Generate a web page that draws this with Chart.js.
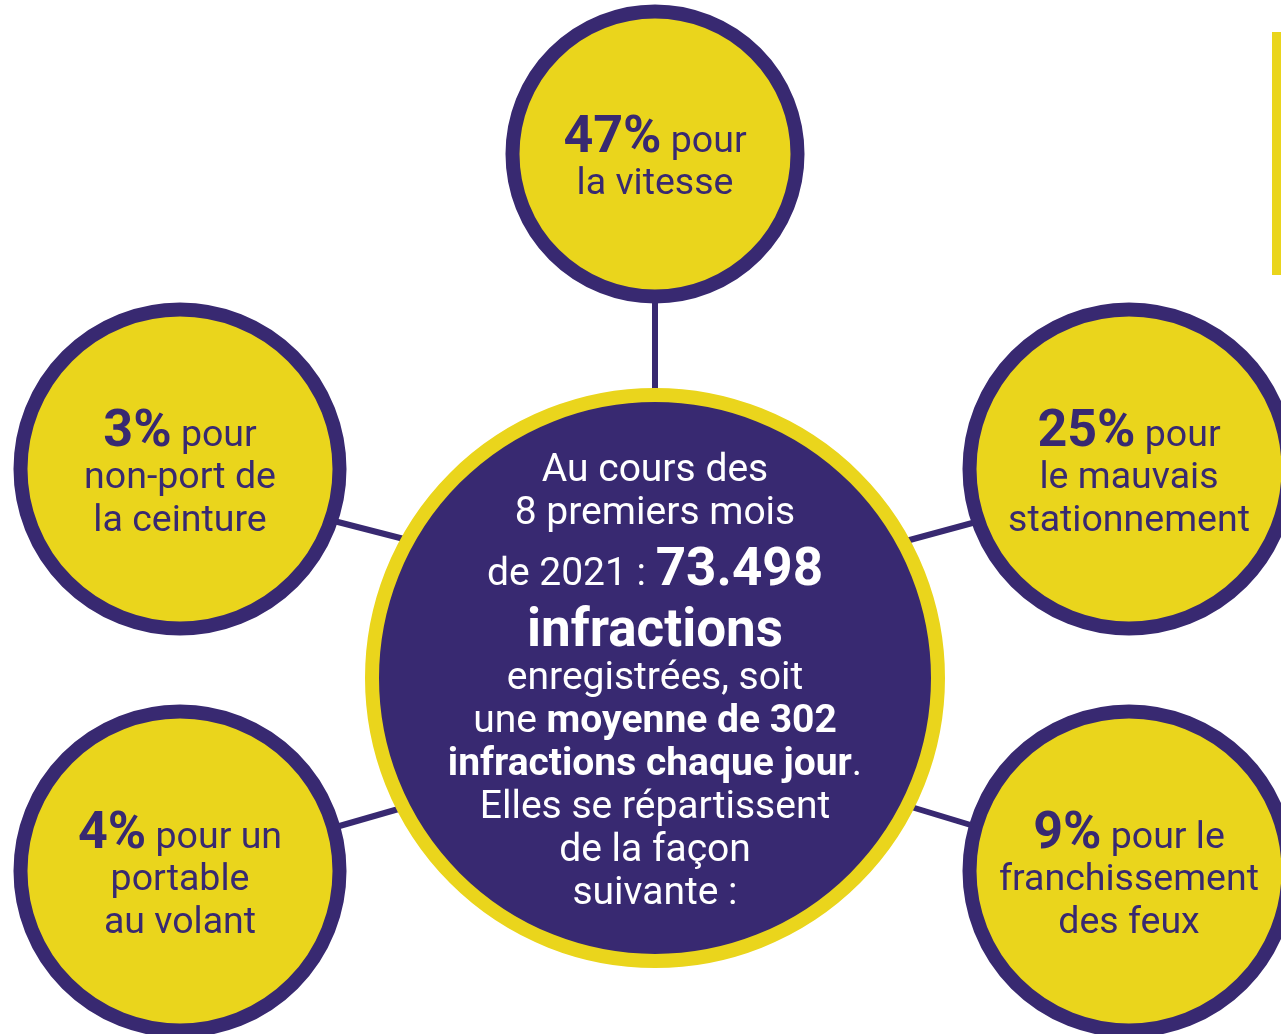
<!DOCTYPE html>
<html lang="fr">
<head>
<meta charset="utf-8">
<title>Infractions 2021</title>
<script src="https://cdn.jsdelivr.net/npm/chart.js@4.4.1/dist/chart.umd.min.js"></script>
<style>
  html, body { margin: 0; padding: 0; background: #ffffff; }
  #wrap { position: relative; width: 1281px; height: 1034px; }
</style>
</head>
<body>
<div id="wrap"><canvas id="infractionsChart"></canvas></div>
<script>
// --- data ---
const shares = [47, 25, 9, 4, 3];
const categoryLines = [
    ['pour', 'la vitesse'],
    ['pour', 'le mauvais', 'stationnement'],
    ['pour le', 'franchissement', 'des feux'],
    ['pour un', 'portable', 'au volant'],
    ['pour', 'non-port de', 'la ceinture']
];
const totalInfractions = '73.498';
const dailyAverage = 302;
const periodMonths = 8;
const periodYear = 2021;

// hub text, each line is a list of [text, style]  (r = regular, b = bold, big = large bold)
const hubLines = [
    [['Au cours des', 'r']],
    [[periodMonths + ' premiers mois', 'r']],
    [['de ' + periodYear + ' : ', 'r'], [totalInfractions, 'big']],
    [['infractions', 'big']],
    [['enregistrées, soit', 'r']],
    [['une ', 'r'], ['moyenne de ' + dailyAverage, 'b']],
    [['infractions chaque jour', 'b'], ['.', 'r']],
    [['Elles se répartissent', 'r']],
    [['de la façon', 'r']],
    [['suivante :', 'r']]
];

// --- layout (canvas pixels == axis units) ---
const W = 1281, H = 1034;
const bubbleX = [655, 1129, 1129, 180, 180];
const bubbleY = [154, 469, 871, 871, 469];
const bubbleOuter = [149, 166, 166, 166, 166];
const ring = 13;
const hub = { x: 655, y: 678, r: 290 };
const connectors = [
    [655, 298, 655, 394],
    [906, 541, 976, 522],
    [908, 806, 974, 826],
    [336, 827, 402, 808],
    [334, 521, 404, 539]
];

const PURPLE = '#382971';
const YELLOW = '#EAD51C';
const FONT = 'Roboto, "Noto Sans", sans-serif';

// big bubbles would otherwise shrink the chart area (overflow padding),
// here the axes must span the whole canvas
Chart.BubbleController.prototype.getMaxOverflow = function () { return 0; };
Chart.LineController.prototype.getMaxOverflow = function () { return 0; };

function fontFor(style, sizes) {
    if (style === 'big') return 'bold ' + sizes.big + 'px ' + FONT;
    if (style === 'b') return 'bold ' + sizes.text + 'px ' + FONT;
    return 'normal ' + sizes.text + 'px ' + FONT;
}

function drawRuns(ctx, runs, cx, baseline, sizes, color) {
    let total = 0;
    const widths = runs.map(([t, s]) => {
        ctx.font = fontFor(s, sizes);
        const w = ctx.measureText(t).width;
        total += w;
        return w;
    });
    let x = cx - total / 2;
    ctx.fillStyle = color;
    runs.forEach(([t, s], i) => {
        ctx.font = fontFor(s, sizes);
        ctx.fillText(t, x, baseline);
        x += widths[i];
    });
}

const textPlugin = {
    id: 'bubbleText',
    afterDatasetsDraw(chart) {
        const ctx = chart.ctx;
        ctx.save();
        ctx.textAlign = 'left';
        ctx.textBaseline = 'alphabetic';

        // satellites
        const sat = chart.getDatasetMeta(connectors.length);
        sat.data.forEach((el, i) => {
            const lines = categoryLines[i];
            const step = 42.5;
            let base = el.y + 19 - (lines.length - 1) * step / 2;
            lines.forEach((line, j) => {
                const runs = j === 0 ? [[shares[i] + '%', 'big'], [' ' + line, 'r']] : [[line, 'r']];
                drawRuns(ctx, runs, el.x, base, { text: 37.5, big: 52 }, PURPLE);
                base += step;
            });
        });

        // hub
        const hubEl = chart.getDatasetMeta(connectors.length + 1).data[0];
        let base = hubEl.y - 197;
        hubLines.forEach((runs, i) => {
            if (i > 0) base += runs.some(r => r[1] === 'big') ? 61 : 43;
            drawRuns(ctx, runs, hubEl.x, base, { text: 39, big: 53 }, '#ffffff');
        });

        // side bar
        const xs = chart.scales.x, ys = chart.scales.y;
        ctx.fillStyle = YELLOW;
        const x0 = xs.getPixelForValue(1272), y0 = ys.getPixelForValue(32);
        ctx.fillRect(x0, y0, xs.getPixelForValue(W) - x0, ys.getPixelForValue(275) - y0);
        ctx.restore();
    }
};

const datasets = connectors.map(c => ({
    type: 'line',
    data: [{ x: c[0], y: c[1] }, { x: c[2], y: c[3] }],
    borderColor: PURPLE,
    borderWidth: 6,
    pointRadius: 0,
    clip: false,
    order: 3
}));

datasets.push({
    type: 'bubble',
    data: shares.map((v, i) => ({ x: bubbleX[i], y: bubbleY[i], r: bubbleOuter[i] - ring / 2 })),
    backgroundColor: YELLOW,
    borderColor: PURPLE,
    borderWidth: ring + 1,
    hoverRadius: 0,
    clip: false,
    order: 1
});

datasets.push({
    type: 'bubble',
    data: [{ x: hub.x, y: hub.y, r: hub.r - 7 }],
    backgroundColor: PURPLE,
    borderColor: YELLOW,
    borderWidth: 14,
    hoverRadius: 0,
    clip: false,
    order: 2
});

new Chart(document.getElementById('infractionsChart'), {
    type: 'bubble',
    data: { datasets },
    options: {
        responsive: true,
        maintainAspectRatio: false,
        animation: false,
        events: [],
        layout: { padding: 0 },
        scales: {
            x: { type: 'linear', min: 0, max: W, display: false },
            y: { type: 'linear', min: 0, max: H, reverse: true, display: false }
        },
        plugins: {
            legend: { display: false },
            tooltip: { enabled: false }
        }
    },
    plugins: [textPlugin]
});
</script>
</body>
</html>
